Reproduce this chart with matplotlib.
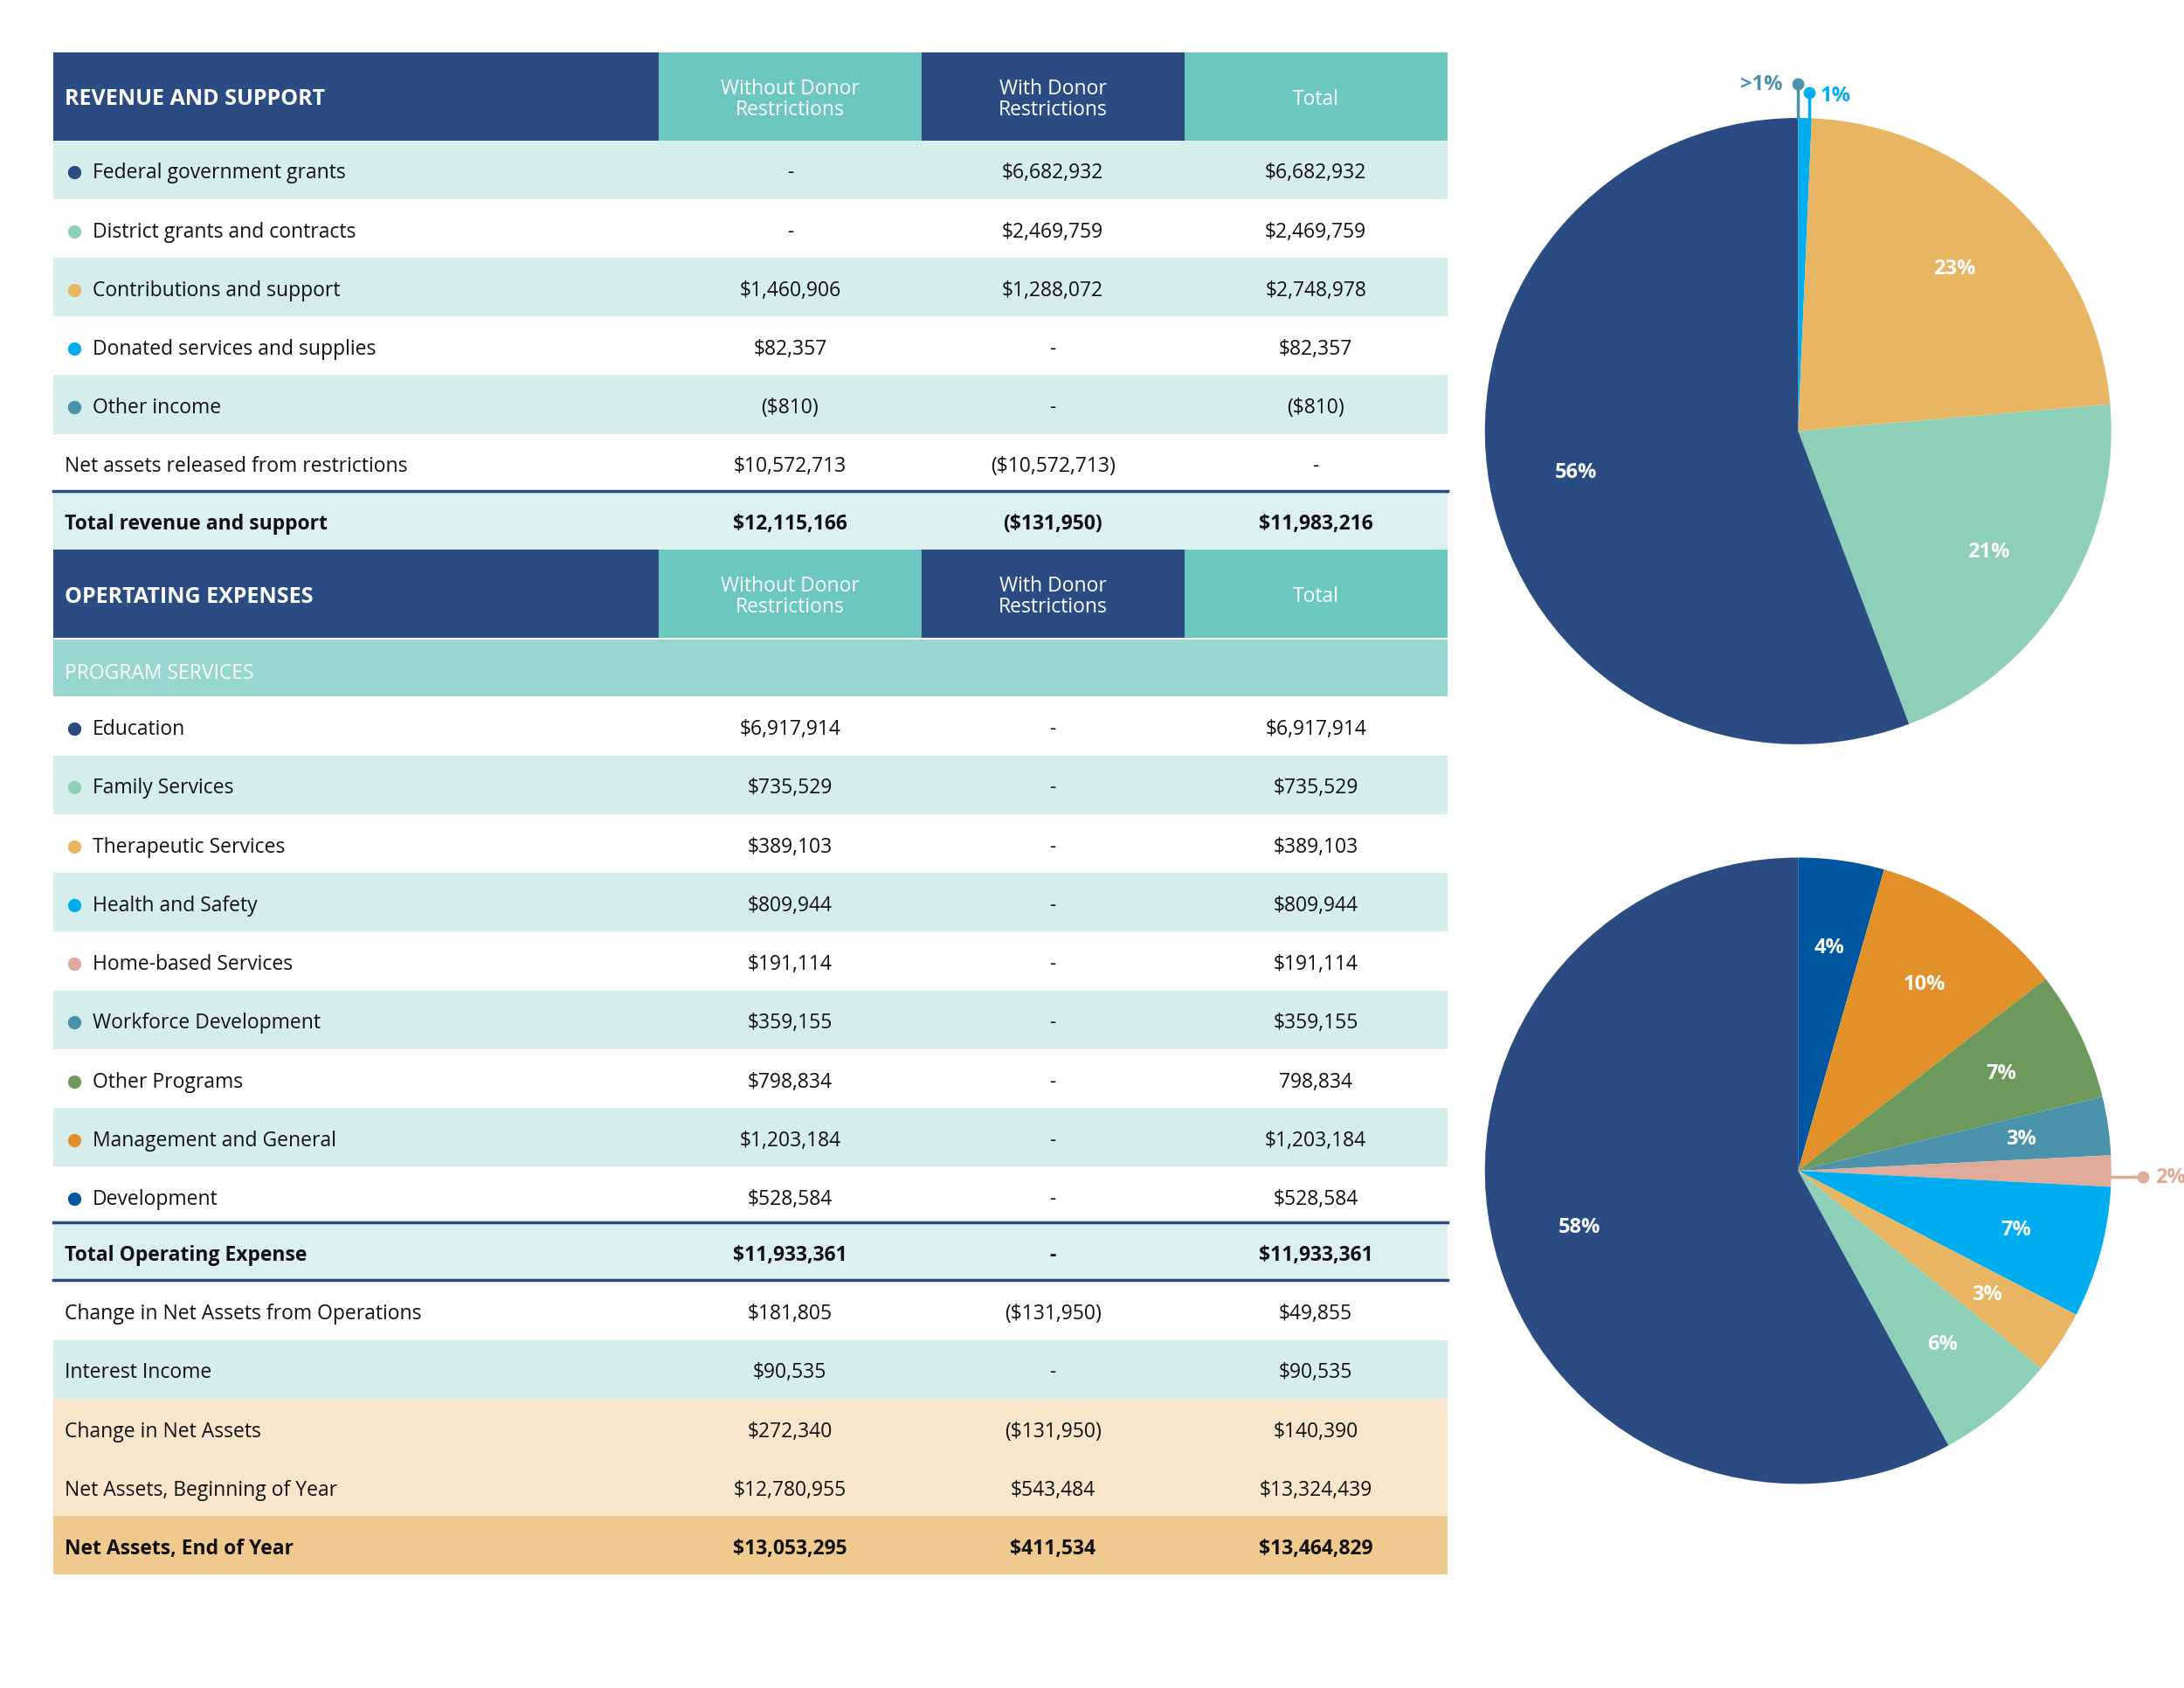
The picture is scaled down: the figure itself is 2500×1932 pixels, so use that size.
import matplotlib.pyplot as plt
from matplotlib.patches import Rectangle

plt.rcParams['font.family'] = ['Open Sans', 'DejaVu Sans']

NAVY = '#2b4c82'
TEAL_HDR = '#6cc7bf'
LIGHT = '#d6eeeb'
BAND = '#98d7d0'
BEIGE = '#f7e6cc'
GOLD_ROW = '#f0c98f'

# revenue section
rev_labels = ['Federal government grants', 'District grants and contracts', 'Contributions and support',
              'Donated services and supplies', 'Other income', 'Net assets released from restrictions']
rev_colors = ['#2b4c82', '#8ecfb7', '#e8b563', '#00aeef', '#4a93ab', None]
rev_without = ['-', '-', '$1,460,906', '$82,357', '($810)', '$10,572,713']
rev_with = ['$6,682,932', '$2,469,759', '$1,288,072', '-', '-', '($10,572,713)']
rev_total = ['$6,682,932', '$2,469,759', '$2,748,978', '$82,357', '($810)', '-']
rev_sum = ['Total revenue and support', '$12,115,166', '($131,950)', '$11,983,216']

# expense section
exp_labels = ['Education', 'Family Services', 'Therapeutic Services', 'Health and Safety', 'Home-based Services',
              'Workforce Development', 'Other Programs', 'Management and General', 'Development']
exp_colors = ['#2b4c82', '#8ecfb7', '#e8b563', '#00aeef', '#dfaa9a', '#4a93ab', '#6d9a5c', '#e2902a', '#0057a0']
exp_without = ['$6,917,914', '$735,529', '$389,103', '$809,944', '$191,114', '$359,155', '$798,834',
               '$1,203,184', '$528,584']
exp_total = ['$6,917,914', '$735,529', '$389,103', '$809,944', '$191,114', '$359,155', '798,834',
             '$1,203,184', '$528,584']
exp_sum = ['Total Operating Expense', '$11,933,361', '-', '$11,933,361']

tail_rows = [
    ['Change in Net Assets from Operations', '$181,805', '($131,950)', '$49,855'],
    ['Interest Income', '$90,535', '-', '$90,535'],
    ['Change in Net Assets', '$272,340', '($131,950)', '$140,390'],
    ['Net Assets, Beginning of Year', '$12,780,955', '$543,484', '$13,324,439'],
    ['Net Assets, End of Year', '$13,053,295', '$411,534', '$13,464,829'],
]
tail_bg = ['white', LIGHT, BEIGE, BEIGE, GOLD_ROW]

rev_pie_vals = [810, 82357, 2748978, 2469759, 6682932]
rev_pie_colors = ['#4a93ab', '#00aeef', '#e8b563', '#8ecfb7', '#2b4c82']
rev_pie_labels = ['>1%', '1%', '23%', '21%', '56%']

exp_pie_vals = [528584, 1203184, 798834, 359155, 191114, 809944, 389103, 735529, 6917914]
exp_pie_colors = ['#0057a0', '#e2902a', '#6d9a5c', '#4a93ab', '#dfaa9a', '#00aeef', '#e8b563', '#8ecfb7', '#2b4c82']
exp_pie_labels = ['4%', '10%', '7%', '3%', '2%', '7%', '3%', '6%', '58%']

W, H = 1562, 1208
fig = plt.figure(figsize=(25, 19.33), dpi=100)
ax = fig.add_axes([0, 0, 1, 1])
ax.set_xlim(0, W)
ax.set_ylim(H, 0)
ax.axis('off')

X0, X1, X2, X3, X4 = 38, 471, 659, 847, 1035
cx = [(X1 + X2) / 2, (X2 + X3) / 2, (X3 + X4) / 2]
FS = 16.5


def rect(x0, y0, x1, y1, c):
    ax.add_patch(Rectangle((x0, y0), x1 - x0, y1 - y0, color=c, lw=0))


def header(y0, title):
    rect(X0, y0, X1, y0 + 63, NAVY)
    rect(X1, y0, X2, y0 + 63, TEAL_HDR)
    rect(X2, y0, X3, y0 + 63, NAVY)
    rect(X3, y0, X4, y0 + 63, TEAL_HDR)
    ym = y0 + 33
    ax.text(46, ym, title, color='white', fontsize=18, fontweight='bold', va='center')
    ax.text(cx[0], ym, 'Without Donor\nRestrictions', color='white', fontsize=FS, ha='center', va='center', linespacing=1.0)
    ax.text(cx[1], ym, 'With Donor\nRestrictions', color='white', fontsize=FS, ha='center', va='center', linespacing=1.0)
    ax.text(cx[2], ym, 'Total', color='white', fontsize=FS, ha='center', va='center')


def row(y0, label, vals, bg, dot=None, bold=False, h=42):
    if bg != 'white':
        rect(X0, y0, X4, y0 + h, bg)
    ym = y0 + h / 2 + 2
    fw = 'bold' if bold else 'normal'
    x = 46
    if dot:
        ax.plot(53, ym, 'o', color=dot, ms=10)
        x = 66
    ax.text(x, ym, label, fontsize=FS, va='center', color='#111111', fontweight=fw)
    for c, v in zip(cx, vals):
        ax.text(c, ym, v, fontsize=FS, ha='center', va='center', color='#111111', fontweight=fw)


header(38, 'REVENUE AND SUPPORT')
y = 101
for i, lab in enumerate(rev_labels):
    row(y, lab, [rev_without[i], rev_with[i], rev_total[i]], LIGHT if i % 2 == 0 else 'white', rev_colors[i])
    y += 42
row(352, rev_sum[0], rev_sum[1:], '#dcf0f0', bold=True)
ax.plot([X0, X4], [352, 352], color=NAVY, lw=2.5)

header(394, 'OPERTATING EXPENSES')
rect(X0, 458, X4, 499, BAND)
ax.text(46, 482, 'PROGRAM SERVICES', color='white', fontsize=FS, va='center')
y = 499
for i, lab in enumerate(exp_labels):
    row(y, lab, [exp_without[i], '-', exp_total[i]], LIGHT if i % 2 == 1 else 'white', exp_colors[i])
    y += 42
row(875, exp_sum[0], exp_sum[1:], '#dcf0f0', bold=True)
ax.plot([X0, X4], [875, 875], color=NAVY, lw=2.5)
ax.plot([X0, X4], [916, 916], color=NAVY, lw=2.5)
y = 917
for i, r in enumerate(tail_rows):
    row(y, r[0], r[1:], tail_bg[i], bold=(i == 4))
    y += 42

# pies
R = 224


def pie(cy, vals, colors, labels, outside):
    a = fig.add_axes([(1286 - R) / W, 1 - (cy + R) / H, 2 * R / W, 2 * R / H])
    wedges, _ = a.pie(vals, colors=colors, startangle=90, counterclock=False,
                      wedgeprops=dict(lw=0))
    a.set_aspect('auto')
    import numpy as np
    for w, lab in zip(wedges, labels):
        ang = np.deg2rad((w.theta1 + w.theta2) / 2)
        if lab in outside:
            continue
        a.text(0.72 * np.cos(ang), 0.72 * np.sin(ang), lab, color='white', fontsize=17,
               fontweight='bold', ha='center', va='center')
    return a, wedges


a1, w1 = pie(309, rev_pie_vals, rev_pie_colors, rev_pie_labels, ['>1%', '1%'])
a1.plot([0.0, 0.0], [1.0, 1.11], color='#4a93ab', lw=2.5)
a1.plot(0.0, 1.11, 'o', color='#4a93ab', ms=9)
a1.text(-0.05, 1.11, '>1%', color='#4a93ab', fontsize=17, fontweight='bold', ha='right', va='center')
a1.plot([0.035, 0.035], [1.0, 1.08], color='#00aeef', lw=2.5)
a1.plot(0.035, 1.08, 'o', color='#00aeef', ms=9)
a1.text(0.07, 1.04, '1%', color='#00aeef', fontsize=17, fontweight='bold', ha='left', va='bottom')
a1.set_xlim(-1, 1); a1.set_ylim(-1, 1)

a2, w2 = pie(838, exp_pie_vals, exp_pie_colors, exp_pie_labels, ['2%'])
a2.plot([1.0, 1.1], [-0.02, -0.02], color='#dfaa9a', lw=2.5)
a2.plot(1.1, -0.02, 'o', color='#dfaa9a', ms=9)
a2.text(1.14, -0.02, '2%', color='#dfaa9a', fontsize=17, fontweight='bold', ha='left', va='center')
a2.set_xlim(-1, 1); a2.set_ylim(-1, 1)
for a in (a1, a2):
    a.set_clip_on(False)
    for art in a.get_children():
        art.set_clip_on(False)

fig.savefig('out.png', dpi=100)
